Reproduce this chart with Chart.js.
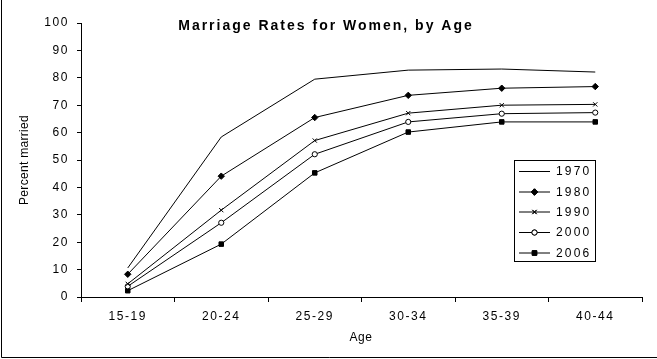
<!DOCTYPE html>
<html>
<head>
<meta charset="utf-8">
<script src="https://cdn.jsdelivr.net/npm/chart.js@4.4.1/dist/chart.umd.min.js"></script>
<style>
  html, body { margin: 0; padding: 0; background: #fff; }
  #wrap { width: 657px; height: 359px; }
</style>
</head>
<body>
<div id="wrap"><canvas id="chart" width="657" height="359"></canvas></div>
<script>
// Datos
const ageGroups = ['15-19', '20-24', '25-29', '30-34', '35-39', '40-44'];
const years = ['1970', '1980', '1990', '2000', '2006'];
const rates1970 = [10.6, 58.4, 79.5, 82.8, 83.2, 82.1];
const rates1980 = [8.3, 44.1, 65.5, 73.6, 76.2, 76.8];
const rates1990 = [4.8, 31.7, 57.1, 67.1, 70.0, 70.3];
const rates2000 = [3.9, 27.1, 52.1, 63.9, 66.9, 67.3];
const rates2006 = [2.3, 19.3, 45.3, 60.2, 63.9, 63.9];
const yTicks = [0, 10, 20, 30, 40, 50, 60, 70, 80, 90, 100];

const FONT = 'Arial, "Liberation Sans", sans-serif';
const SPACING = '1.6px';

function makeSet(label, data, style, radius, fill) {
    return {
        label: label,
        data: data,
        borderColor: '#000',
        borderWidth: 1,
        backgroundColor: fill,
        pointStyle: style,
        pointRadius: radius,
        pointBorderColor: '#000',
        pointBackgroundColor: fill,
        pointBorderWidth: 1,
        tension: 0,
        fill: false
    };
}

const datasets = [
    makeSet(years[0], rates1970, false, 0, '#000'),
    makeSet(years[1], rates1980, 'rectRot', 3.2, '#000'),
    makeSet(years[2], rates1990, 'crossRot', 3, '#000'),
    makeSet(years[3], rates2000, 'circle', 2.6, '#fff'),
    makeSet(years[4], rates2006, 'rect', 3.2, '#000')
];

// Espaciado de letras estilo Excel
const spacingPlugin = {
    id: 'spacing',
    beforeLayout(chart) { chart.ctx.letterSpacing = SPACING; },
    beforeDraw(chart) { chart.ctx.letterSpacing = SPACING; }
};

// Título, ejes, leyenda en caja y marco
const decorPlugin = {
    id: 'decor',
    afterDraw(chart) {
        const ctx = chart.ctx;
        ctx.save();
        ctx.letterSpacing = '2px';
        ctx.fillStyle = '#000';
        ctx.font = 'bold 14px ' + FONT;
        ctx.textAlign = 'center';
        ctx.textBaseline = 'middle';
        ctx.fillText('Marriage Rates for Women, by Age', 326, 26);

        // Títulos de ejes
        ctx.font = '12px ' + FONT;
        ctx.letterSpacing = '0.6px';
        ctx.fillText('Age', 361, 338);
        ctx.save();
        ctx.translate(25, 160);
        ctx.rotate(-Math.PI / 2);
        ctx.letterSpacing = '0.3px';
        ctx.fillText('Percent married', 0, 0);
        ctx.restore();

        // Caja de leyenda
        const bx = 514.5, by = 160.5, bw = 81, bh = 101;
        ctx.strokeStyle = '#000';
        ctx.lineWidth = 1;
        ctx.strokeRect(bx, by, bw, bh);
        ctx.font = '12px ' + FONT;
        ctx.letterSpacing = '2.2px';
        ctx.textAlign = 'left';
        const rowY = [171, 191.5, 211.5, 232, 252.5];
        chart.data.datasets.forEach((ds, i) => {
            const y = rowY[i];
            ctx.beginPath();
            ctx.moveTo(519, y + 0.5);
            ctx.lineTo(550, y + 0.5);
            ctx.stroke();
            if (ds.pointStyle) {
                Chart.helpers.drawPoint(ctx, {
                    pointStyle: ds.pointStyle,
                    radius: ds.pointRadius,
                    borderWidth: 1
                }, 534.5, y + 0.5);
                ctx.fillStyle = ds.pointBackgroundColor;
                ctx.fill();
                ctx.stroke();
            }
            ctx.fillStyle = '#000';
            ctx.fillText(ds.label, 556, y + 1);
        });

        // Marco exterior (izquierda y abajo)
        ctx.beginPath();
        ctx.moveTo(1.5, 0);
        ctx.lineTo(1.5, 357.5);
        ctx.lineTo(657, 357.5);
        ctx.stroke();
        ctx.restore();
    }
};

new Chart(document.getElementById('chart'), {
    type: 'line',
    data: { labels: ageGroups, datasets: datasets },
    options: {
        responsive: false,
        animation: false,
        layout: { padding: { top: 23, right: 15, left: 0, bottom: 0 } },
        plugins: {
            legend: { display: false },
            title: { display: false },
            tooltip: { enabled: false }
        },
        scales: {
            x: {
                offset: true,
                grid: {
                    display: true,
                    offset: true,
                    drawOnChartArea: false,
                    drawTicks: true,
                    tickLength: 5,
                    color: '#000',
                    lineWidth: 1
                },
                border: { display: true, color: '#000', width: 1 },
                ticks: {
                    color: '#000',
                    font: { family: FONT, size: 12 },
                    maxRotation: 0,
                    padding: 7
                },
                afterFit(scale) { scale.height = 62; }
            },
            y: {
                min: 0,
                max: 100,
                afterBuildTicks(scale) { scale.ticks = yTicks.map(v => ({ value: v })); },
                grid: {
                    display: true,
                    drawOnChartArea: false,
                    drawTicks: true,
                    tickLength: 4,
                    color: '#000'
                },
                border: { display: true, color: '#000', width: 1 },
                ticks: {
                    color: '#000',
                    font: { family: FONT, size: 12 },
                    padding: 8
                },
                afterFit(scale) { scale.width = 81; }
            }
        }
    },
    plugins: [spacingPlugin, decorPlugin]
});
</script>
</body>
</html>
